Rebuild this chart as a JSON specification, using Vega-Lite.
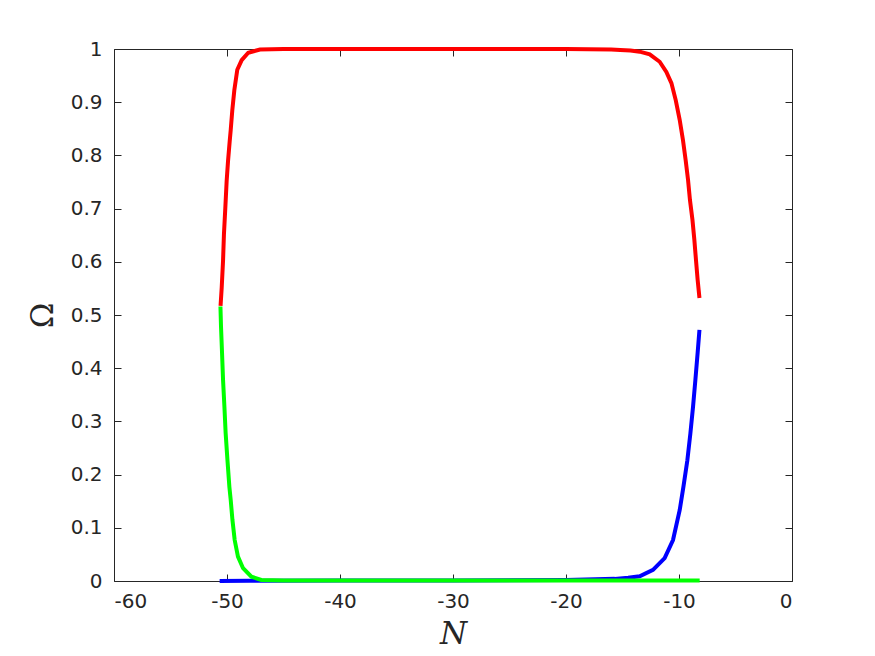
{
  "$schema": "https://vega.github.io/schema/vega-lite/v6.json",
  "width": 678,
  "height": 532,
  "autosize": {"type": "none"},
  "padding": {"left": 114, "top": 49, "right": 83, "bottom": 75},
  "background": "white",
  "config": {
    "view": {"stroke": null},
    "axis": {
      "domainColor": "#262626",
      "domainWidth": 1,
      "tickColor": "#262626",
      "tickWidth": 1,
      "tickSize": -7,
      "labelColor": "#262626",
      "labelFont": "DejaVu Sans",
      "labelFontSize": 20,
      "grid": false,
      "titleColor": "#262626",
      "titleFontWeight": "normal"
    }
  },
  "data": {
    "values": [
      {"s": "red", "i": 1, "N": -50.57, "O": 0.517},
      {"s": "red", "i": 2, "N": -50.47, "O": 0.551},
      {"s": "red", "i": 3, "N": -50.35, "O": 0.602},
      {"s": "red", "i": 4, "N": -50.27, "O": 0.652},
      {"s": "red", "i": 5, "N": -50.15, "O": 0.701},
      {"s": "red", "i": 6, "N": -50.03, "O": 0.752},
      {"s": "red", "i": 7, "N": -49.91, "O": 0.789},
      {"s": "red", "i": 8, "N": -49.76, "O": 0.827},
      {"s": "red", "i": 9, "N": -49.67, "O": 0.848},
      {"s": "red", "i": 10, "N": -49.53, "O": 0.885},
      {"s": "red", "i": 11, "N": -49.35, "O": 0.923},
      {"s": "red", "i": 12, "N": -49.09, "O": 0.961},
      {"s": "red", "i": 13, "N": -48.7, "O": 0.979},
      {"s": "red", "i": 14, "N": -48.12, "O": 0.993},
      {"s": "red", "i": 15, "N": -47.08, "O": 0.999},
      {"s": "red", "i": 16, "N": -45, "O": 1.0},
      {"s": "red", "i": 17, "N": -40, "O": 1.0},
      {"s": "red", "i": 18, "N": -30, "O": 1.0},
      {"s": "red", "i": 19, "N": -20, "O": 1.0},
      {"s": "red", "i": 20, "N": -16, "O": 0.999},
      {"s": "red", "i": 21, "N": -15.2, "O": 0.998},
      {"s": "red", "i": 22, "N": -14.3, "O": 0.997},
      {"s": "red", "i": 23, "N": -13.48, "O": 0.995},
      {"s": "red", "i": 24, "N": -12.59, "O": 0.99},
      {"s": "red", "i": 25, "N": -11.71, "O": 0.976},
      {"s": "red", "i": 26, "N": -11.12, "O": 0.957},
      {"s": "red", "i": 27, "N": -10.67, "O": 0.936},
      {"s": "red", "i": 28, "N": -10.29, "O": 0.904},
      {"s": "red", "i": 29, "N": -9.94, "O": 0.867},
      {"s": "red", "i": 30, "N": -9.65, "O": 0.829},
      {"s": "red", "i": 31, "N": -9.41, "O": 0.791},
      {"s": "red", "i": 32, "N": -9.2, "O": 0.754},
      {"s": "red", "i": 33, "N": -9.03, "O": 0.716},
      {"s": "red", "i": 34, "N": -8.81, "O": 0.679},
      {"s": "red", "i": 35, "N": -8.64, "O": 0.641},
      {"s": "red", "i": 36, "N": -8.5, "O": 0.604},
      {"s": "red", "i": 37, "N": -8.35, "O": 0.566},
      {"s": "red", "i": 38, "N": -8.19, "O": 0.532},
      {"s": "blue", "i": 1, "N": -50.65, "O": 0.0},
      {"s": "blue", "i": 2, "N": -48, "O": 0.0005},
      {"s": "blue", "i": 3, "N": -40, "O": 0.001},
      {"s": "blue", "i": 4, "N": -30, "O": 0.001},
      {"s": "blue", "i": 5, "N": -20, "O": 0.002},
      {"s": "blue", "i": 6, "N": -15.69, "O": 0.004},
      {"s": "blue", "i": 7, "N": -14.5, "O": 0.006},
      {"s": "blue", "i": 8, "N": -13.48, "O": 0.009},
      {"s": "blue", "i": 9, "N": -12.3, "O": 0.021},
      {"s": "blue", "i": 10, "N": -11.27, "O": 0.043},
      {"s": "blue", "i": 11, "N": -10.53, "O": 0.077},
      {"s": "blue", "i": 12, "N": -9.94, "O": 0.133},
      {"s": "blue", "i": 13, "N": -9.61, "O": 0.177},
      {"s": "blue", "i": 14, "N": -9.26, "O": 0.227},
      {"s": "blue", "i": 15, "N": -8.99, "O": 0.278},
      {"s": "blue", "i": 16, "N": -8.76, "O": 0.327},
      {"s": "blue", "i": 17, "N": -8.55, "O": 0.378},
      {"s": "blue", "i": 18, "N": -8.35, "O": 0.429},
      {"s": "blue", "i": 19, "N": -8.19, "O": 0.472},
      {"s": "green", "i": 1, "N": -50.58, "O": 0.516},
      {"s": "green", "i": 2, "N": -50.53, "O": 0.478},
      {"s": "green", "i": 3, "N": -50.44, "O": 0.429},
      {"s": "green", "i": 4, "N": -50.35, "O": 0.378},
      {"s": "green", "i": 5, "N": -50.23, "O": 0.328},
      {"s": "green", "i": 6, "N": -50.12, "O": 0.278},
      {"s": "green", "i": 7, "N": -49.96, "O": 0.227},
      {"s": "green", "i": 8, "N": -49.79, "O": 0.177},
      {"s": "green", "i": 9, "N": -49.67, "O": 0.152},
      {"s": "green", "i": 10, "N": -49.52, "O": 0.115},
      {"s": "green", "i": 11, "N": -49.32, "O": 0.077},
      {"s": "green", "i": 12, "N": -49.03, "O": 0.046},
      {"s": "green", "i": 13, "N": -48.58, "O": 0.024},
      {"s": "green", "i": 14, "N": -47.84, "O": 0.008},
      {"s": "green", "i": 15, "N": -46.96, "O": 0.002},
      {"s": "green", "i": 16, "N": -45, "O": 0.001},
      {"s": "green", "i": 17, "N": -30, "O": 0.001},
      {"s": "green", "i": 18, "N": -8.17, "O": 0.001}
    ]
  },
  "resolve": {"axis": {"x": "independent", "y": "independent"}},
  "layer": [
    {
      "transform": [{"filter": "datum.s === 'blue'"}],
      "mark": {"type": "line", "color": "#0000ff", "strokeWidth": 4, "clip": false},
      "encoding": {
        "x": {"field": "N", "type": "quantitative", "scale": {"domain": [-60, 0], "nice": false, "zero": false},
          "axis": {"orient": "bottom", "values": [-60, -50, -40, -30, -20, -10, 0], "labelExpr": "datum.value + ''", "labelPadding": 17, "title": "N", "titleFont": "DejaVu Serif", "titleFontStyle": "italic", "titleFontSize": 31, "titlePadding": 8}},
        "y": {"field": "O", "type": "quantitative", "scale": {"domain": [0, 1], "nice": false, "zero": false},
          "axis": {"orient": "left", "values": [0, 0.1, 0.2, 0.3, 0.4, 0.5, 0.6, 0.7, 0.8, 0.9, 1], "format": ".1~f", "labelPadding": 19, "title": "Ω", "titleFont": "DejaVu Serif", "titleFontSize": 31, "titlePadding": 11}},
        "order": {"field": "i", "type": "quantitative"}
      }
    },
    {
      "transform": [{"filter": "datum.s === 'red'"}],
      "mark": {"type": "line", "color": "#ff0000", "strokeWidth": 4, "clip": false},
      "encoding": {
        "x": {"field": "N", "type": "quantitative", "axis": {"orient": "top", "values": [-60, -50, -40, -30, -20, -10, 0], "labels": false, "title": null}},
        "y": {"field": "O", "type": "quantitative", "axis": {"orient": "right", "values": [0, 0.1, 0.2, 0.3, 0.4, 0.5, 0.6, 0.7, 0.8, 0.9, 1], "labels": false, "title": null}},
        "order": {"field": "i", "type": "quantitative"}
      }
    },
    {
      "transform": [{"filter": "datum.s === 'green'"}],
      "mark": {"type": "line", "color": "#00ff00", "strokeWidth": 4, "clip": false},
      "encoding": {
        "x": {"field": "N", "type": "quantitative", "axis": null},
        "y": {"field": "O", "type": "quantitative", "axis": null},
        "order": {"field": "i", "type": "quantitative"}
      }
    }
  ]
}
